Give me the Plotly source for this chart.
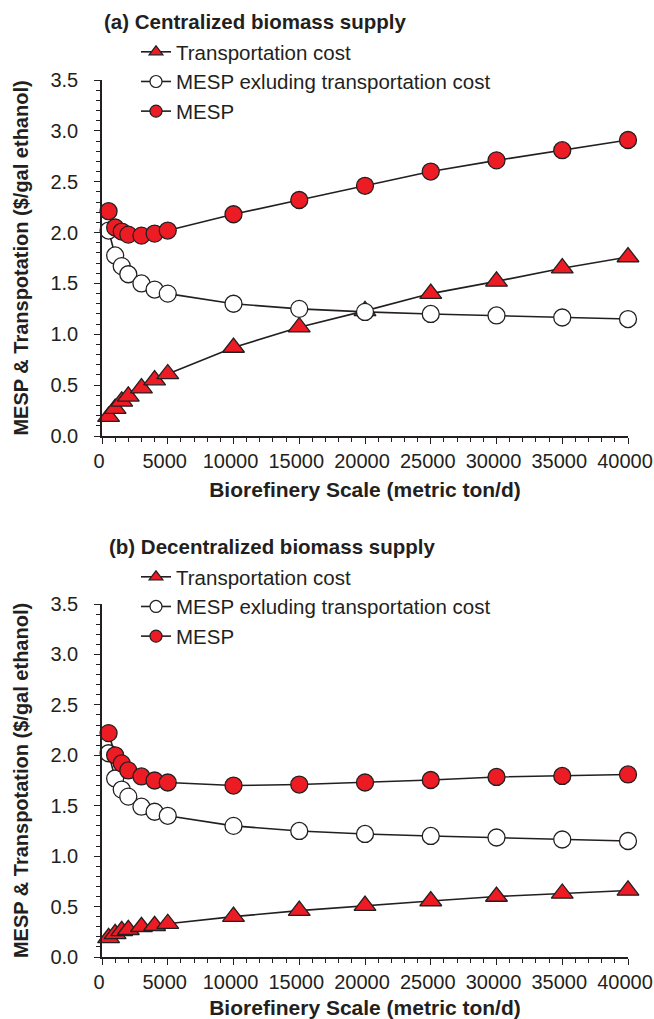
import plotly.graph_objects as go
from plotly.subplots import make_subplots

scale = [500, 1000, 1500, 2000, 3000, 4000, 5000, 10000, 15000, 20000, 25000, 30000, 35000, 40000]

# (a) Centralized biomass supply
a_transport = [0.19, 0.27, 0.34, 0.39, 0.47, 0.55, 0.61, 0.87, 1.07, 1.23, 1.40, 1.52, 1.65, 1.76]
a_mesp_excl = [2.02, 1.775, 1.67, 1.59, 1.50, 1.44, 1.40, 1.30, 1.25, 1.22, 1.20, 1.185, 1.165, 1.15]
a_mesp = [2.21, 2.05, 2.01, 1.98, 1.97, 1.99, 2.02, 2.18, 2.32, 2.46, 2.60, 2.71, 2.81, 2.91]

# (b) Decentralized biomass supply
b_transport = [0.19, 0.23, 0.26, 0.27, 0.30, 0.31, 0.33, 0.40, 0.46, 0.51, 0.555, 0.60, 0.63, 0.66]
b_mesp_excl = [2.02, 1.77, 1.66, 1.59, 1.49, 1.44, 1.40, 1.30, 1.25, 1.22, 1.20, 1.185, 1.165, 1.15]
b_mesp = [2.22, 2.00, 1.92, 1.85, 1.79, 1.75, 1.73, 1.70, 1.71, 1.73, 1.755, 1.785, 1.795, 1.81]

panel_titles = ["(a) Centralized biomass supply", "(b) Decentralized biomass supply"]
series_names = ["Transportation cost", "MESP exluding transportation cost", "MESP"]
x_title = "Biorefinery Scale (metric ton/d)"
y_title = "MESP & Transpotation ($/gal ethanol)"

RED = "#ed1c24"
INK = "#231f20"
FONT = "Liberation Sans, Arial, sans-serif"

W, H = 654, 1019
ML, MR, MT, MB = 102, 26, 80, 62
PH = H - MT - MB
PW = W - ML - MR

def py(px):
    return (H - MB - px) / PH

def pxx(px):
    return (px - ML) / PW

fig = make_subplots(rows=2, cols=1)

styles = [
    dict(symbol="triangle-up", color=RED, size=19),
    dict(symbol="circle", color="white", size=17),
    dict(symbol="circle", color=RED, size=17),
]
leg_sizes = [12, 12, 12]

panels = [(a_transport, a_mesp_excl, a_mesp), (b_transport, b_mesp_excl, b_mesp)]
for r, data in enumerate(panels, start=1):
    legname = "legend" if r == 1 else "legend2"
    for k, (vals, st) in enumerate(zip(data, styles)):
        fig.add_trace(go.Scatter(
            x=scale, y=vals, mode="lines+markers", name=series_names[k],
            line=dict(color=INK, width=1.6),
            marker=dict(symbol=st["symbol"], size=st["size"], color=st["color"],
                        line=dict(color=INK, width=1.3)),
            cliponaxis=False, showlegend=False,
        ), row=r, col=1)
    for k, st in enumerate(styles):
        fig.add_trace(go.Scatter(
            x=[None], y=[None], mode="lines+markers", name=series_names[k],
            line=dict(color=INK, width=1.6),
            marker=dict(symbol=st["symbol"], size=leg_sizes[k], color=st["color"],
                        line=dict(color=INK, width=1.2)),
            legend=legname, showlegend=True,
        ), row=r, col=1)

top_dom = [py(436), 1.0]
bot_dom = [0.0, py(604)]

axis_common_x = dict(
    range=[0, 40000], dtick=5000, tickformat="d", showgrid=False, zeroline=False,
    showline=True, linecolor=INK, linewidth=1.6, ticks="outside", ticklen=6,
    tickcolor=INK, tickwidth=1.4, ticklabeloverflow="allow", ticklabelshift=-3,
    minor=dict(dtick=1000, ticks="outside", ticklen=4, tickcolor=INK, tickwidth=1.2),
    tickfont=dict(family=FONT, size=20, color=INK),
    title=dict(text="<b>" + x_title + "</b>", font=dict(family=FONT, size=21, color=INK), standoff=12),
)
axis_common_y = dict(
    range=[0, 3.5], dtick=0.5, tickformat=".1f", showgrid=False, zeroline=False,
    showline=True, linecolor=INK, linewidth=1.6, ticks="outside", ticklen=6,
    tickcolor=INK, tickwidth=1.4,
    minor=dict(dtick=0.1, ticks="outside", ticklen=4, tickcolor=INK, tickwidth=1.2),
    tickfont=dict(family=FONT, size=20, color=INK), ticklabelstandoff=12,
    title=dict(text="<b>" + y_title + "</b>", font=dict(family=FONT, size=20, color=INK), standoff=16),
)

fig.update_xaxes(**axis_common_x)
fig.update_yaxes(**axis_common_y)
fig.update_layout(
    xaxis=dict(domain=[0, 1], anchor="y"),
    xaxis2=dict(domain=[0, 1], anchor="y2"),
    yaxis=dict(domain=top_dom, anchor="x"),
    yaxis2=dict(domain=bot_dom, anchor="x2"),
)

legend_common = dict(
    font=dict(family=FONT, size=20.5, color=INK), bgcolor="rgba(0,0,0,0)",
    xanchor="left", yanchor="top", itemwidth=30, tracegroupgap=0,
)
fig.update_layout(
    legend=dict(x=pxx(136), y=py(32), **legend_common),
    legend2=dict(x=pxx(136), y=py(557), **legend_common),
)

for t, ypx, xpx in zip(panel_titles, [22, 546], [102, 107]):
    fig.add_annotation(
        text="<b>" + t + "</b>", xref="paper", yref="paper",
        x=pxx(xpx), y=py(ypx), xanchor="left", yanchor="middle",
        showarrow=False, font=dict(family=FONT, size=20.5, color=INK),
    )

fig.update_layout(
    width=W, height=H, margin=dict(l=ML, r=MR, t=MT, b=MB, autoexpand=False),
    plot_bgcolor="white", paper_bgcolor="white", font=dict(family=FONT, color=INK),
)

fig.write_html("out.html", config={"displayModeBar": False},
               post_script="document.body.style.margin='0';document.body.style.overflow='hidden';")
